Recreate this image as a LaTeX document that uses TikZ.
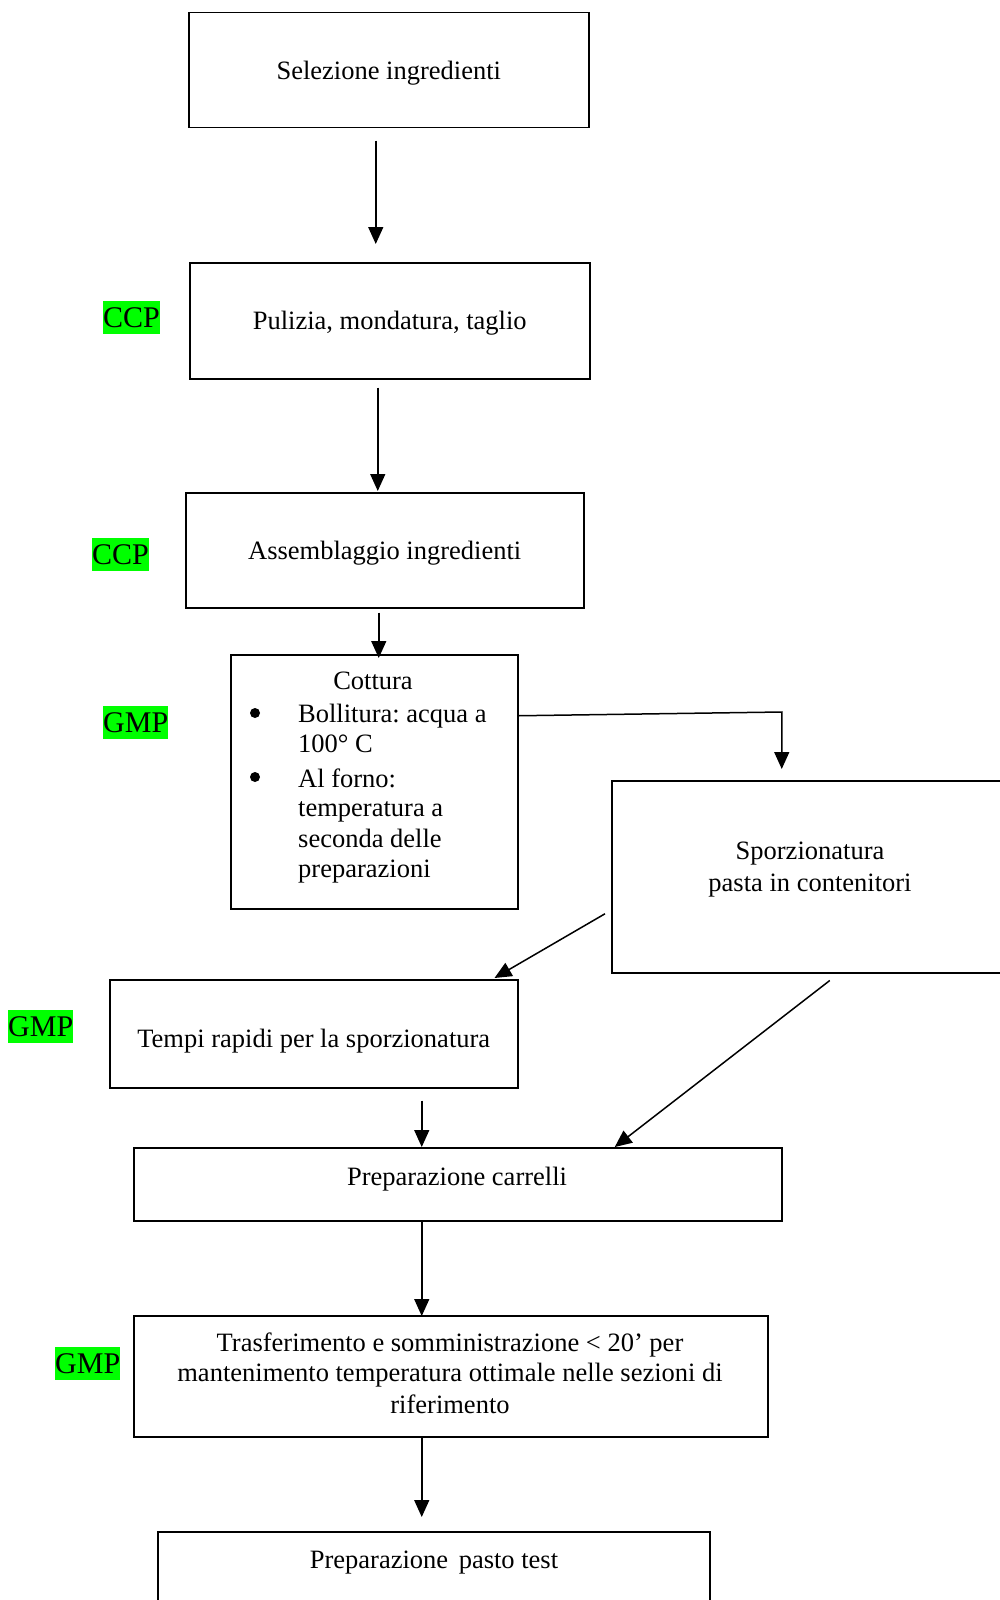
\documentclass[tikz,border=0pt]{standalone}
\usepackage{fontspec}
\setmainfont{Liberation Serif}
\usetikzlibrary{arrows.meta}
\definecolor{hl}{RGB}{0,255,0}
\tikzset{
  every node/.style={font=\fontsize{26.5}{31}\selectfont\frenchspacing, inner sep=0pt},
  box/.style={draw, line width=1.5pt, anchor=north west},
  lbl/.style={fill=hl, font=\fontsize{30}{33}\selectfont, text height=26.5pt, text depth=6.5pt, anchor=north west, inner sep=0pt},
  arr/.style={line width=1.5pt, -{Triangle[length=17pt,width=15pt]}},
  ln/.style={anchor=base west},
  mid/.style={anchor=base},
  dot/.style={circle, fill, minimum size=10pt, inner sep=0pt},
}
\begin{document}
\begin{tikzpicture}[x=1pt,y=-1pt]
\useasboundingbox (0,0) rectangle (1000,1600);
\clip (0,0) rectangle (1000,1600);

% boxes
\node[box, minimum width=400pt, minimum height=115pt, text height=19pt, text depth=0pt] (b1) at (188,12) {Selezione ingredienti};
\node[box, minimum width=400pt, minimum height=116pt, text height=17pt, text depth=0pt] (b2) at (189,262) {Pulizia, mondatura, taglio};
\node[box, minimum width=398pt, minimum height=115pt, text height=19pt, text depth=0pt] (b3) at (185,492) {Assemblaggio ingredienti};
\node[box, minimum width=287pt, minimum height=254pt] (b4) at (230,654) {};
\node[box, minimum width=398pt, minimum height=192pt] (b5) at (611,780) {};
\node[box, minimum width=408pt, minimum height=108pt, text height=28pt, text depth=0pt] (b6) at (109,979) {Tempi rapidi per la sporzionatura};
\node[box, minimum width=648pt, minimum height=73pt] (b7) at (133,1147) {};
\node[box, minimum width=634pt, minimum height=121pt] (b8) at (133,1315) {};
\node[box, minimum width=552pt, minimum height=120pt] (b9) at (157,1531) {};

% texts inside boxes
\node[mid] (t4a) at (373,689) {Cottura};
\node[dot] (bu1) at (255,713) {};
\node[ln] (t4b) at (298,722) {Bollitura: acqua a};
\node[ln] (t4c) at (298,752) {100° C};
\node[dot] (bu2) at (255,777) {};
\node[ln] (t4d) at (298,787) {Al forno:};
\node[ln] (t4e) at (298,816) {temperatura a};
\node[ln] (t4f) at (298,847) {seconda delle};
\node[ln] (t4g) at (298,877) {preparazioni};
\node[mid] (t5a) at (810,859) {Sporzionatura};
\node[mid] (t5b) at (810,891) {pasta in contenitori};
\node[mid] (t7) at (457,1185) {Preparazione carrelli};
\node[mid] (t8a) at (450,1351) {Trasferimento e somministrazione < 20’ per};
\node[mid] (t8b) at (450,1381) {mantenimento temperatura ottimale nelle sezioni di};
\node[mid] (t8c) at (450,1413) {riferimento};
\node[mid] (t9) at (434,1568) {Preparazione\hspace{4pt} pasto test};

% labels
\node[lbl] (l1) at (103,301) {CCP};
\node[lbl] (l2) at (92,538) {CCP};
\node[lbl] (l3) at (103,706) {GMP};
\node[lbl] (l4) at (8,1010) {GMP};
\node[lbl] (l5) at (55,1347) {GMP};

% connectors
\draw[arr] ([xshift=-13pt,yshift=-12pt]b1.south) -- ([xshift=-14pt,yshift=18pt]b2.north);
\draw[arr] ([xshift=-12pt,yshift=-8pt]b2.south) -- ([xshift=-7pt,yshift=1pt]b3.north);
\draw[arr] ([xshift=-6pt,yshift=-4pt]b3.south) -- ([xshift=4.5pt,yshift=-4pt]b4.north);
\draw[arr] ([yshift=66pt]b4.east) -- ([xshift=-29pt,yshift=68pt]b5.north) -- ([xshift=-29pt,yshift=11pt]b5.north);
\draw[arr] ([xshift=-6pt,yshift=-37pt]b5.west) -- ([xshift=-24pt,yshift=1pt]b6.north east);
\draw[arr] ([xshift=19pt,yshift=-7pt]b5.south) -- ([xshift=157pt]b7.north);
\draw[arr] ([xshift=108pt,yshift=-12pt]b6.south) -- ([xshift=-36pt]b7.north);
\draw[arr] ([xshift=-36pt]b7.south) -- ([xshift=-29pt,yshift=-1pt]b8.north);
\draw[arr] ([xshift=-29pt]b8.south) -- ([xshift=-12pt,yshift=14pt]b9.north);
\end{tikzpicture}
\end{document}
